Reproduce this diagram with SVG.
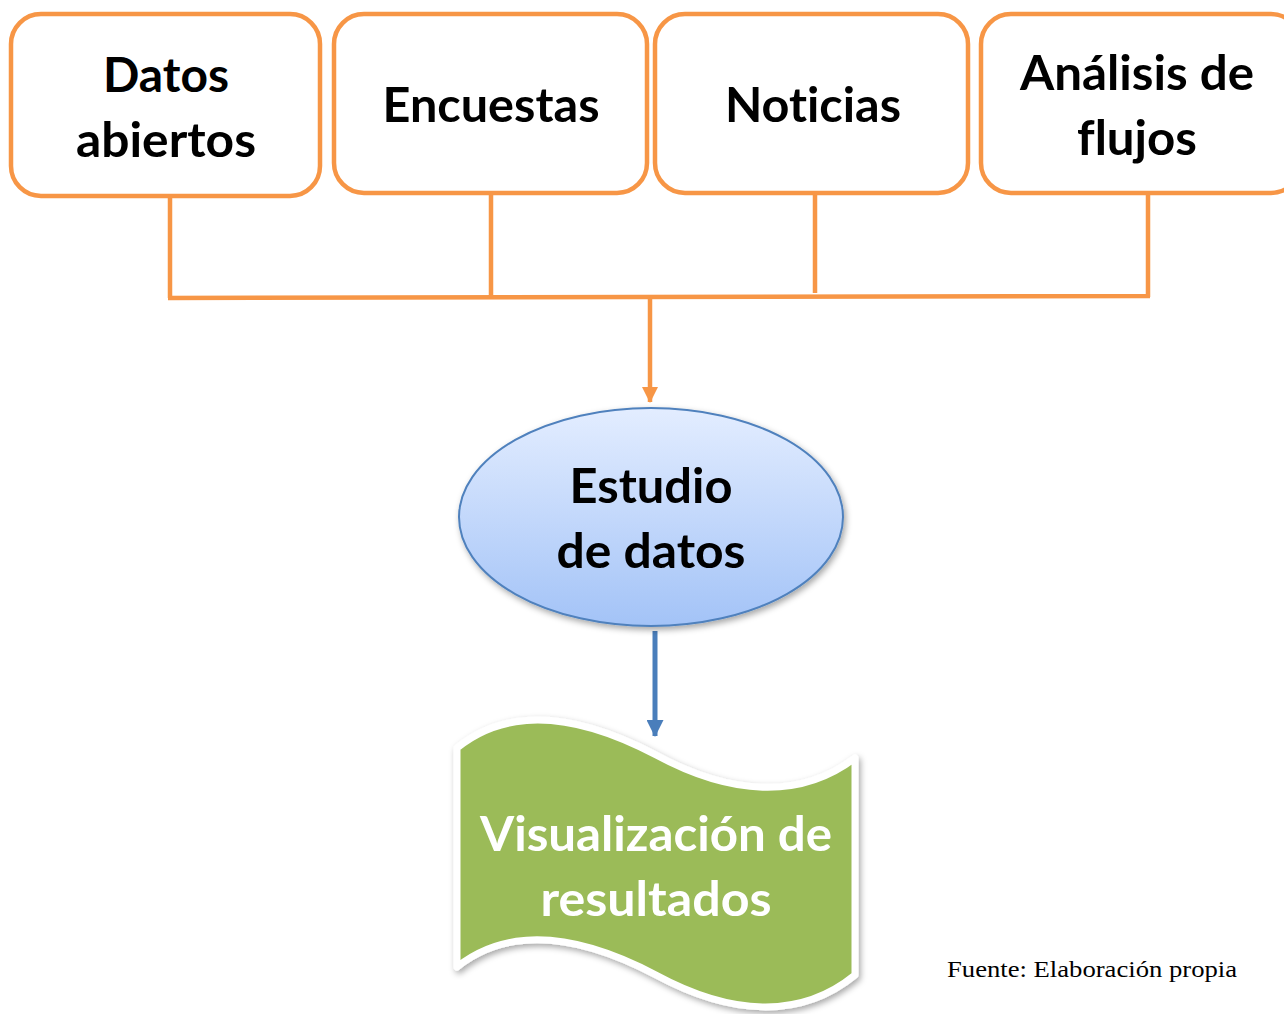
<svg xmlns="http://www.w3.org/2000/svg" width="1284" height="1014" viewBox="0 0 1284 1014">
<style>
.box{fill:#fff;stroke:#F79646;stroke-width:4.5}
.con{fill:none;stroke:#F79646;stroke-width:4.5}
.t{font-family:Lato,"Open Sans",sans-serif;font-weight:bold;font-size:48px;fill:#000;text-anchor:middle;font-variant-ligatures:none}
.w{fill:#fff}
.src{font-family:"Liberation Serif","Times New Roman",serif;font-size:24px;fill:#000}
</style>
<defs>
<linearGradient id="eg" x1="0" y1="0" x2="0" y2="1">
<stop offset="0" stop-color="#E3EDFF"/>
<stop offset="1" stop-color="#A3C3F7"/>
</linearGradient>
<filter id="sh" x="-10%" y="-10%" width="130%" height="130%">
<feDropShadow dx="2" dy="3" stdDeviation="3" flood-color="#000" flood-opacity="0.35"/>
</filter>
<marker id="ao" viewBox="0 0 16 16" refX="15" refY="8" markerWidth="16" markerHeight="16" orient="auto" markerUnits="userSpaceOnUse">
<path d="M0,0 L16,8 L0,16 Z" fill="#F79646"/>
</marker>
<marker id="ab" viewBox="0 0 17 17" refX="16" refY="8.5" markerWidth="17" markerHeight="17" orient="auto" markerUnits="userSpaceOnUse">
<path d="M0,0 L17,8.5 L0,17 Z" fill="#4A7EBB"/>
</marker>
</defs>
<g id="connectors">
<path class="con" d="M170,196 V298 M491,194 V296 M815,194 V293 M1148,195 V297 M168,298 L1150,296"/>
<line x1="650" y1="297" x2="650" y2="402" stroke="#F79646" stroke-width="4.5" marker-end="url(#ao)"/>
<line x1="655" y1="631" x2="655" y2="736" stroke="#4A7EBB" stroke-width="5" marker-end="url(#ab)"/>
</g>
<g id="n1">
<rect class="box" x="11" y="14" width="309" height="182" rx="30"/>
<text class="t" x="166" y="92" textLength="126" lengthAdjust="spacingAndGlyphs">Datos</text>
<text class="t" x="166" y="157" textLength="180" lengthAdjust="spacingAndGlyphs">abiertos</text>
</g>
<g id="n2">
<rect class="box" x="334" y="14" width="313" height="179" rx="30"/>
<text class="t" x="491" y="122" textLength="217" lengthAdjust="spacingAndGlyphs">Encuestas</text>
</g>
<g id="n3">
<rect class="box" x="655" y="14" width="313" height="179" rx="30"/>
<text class="t" x="813" y="122" textLength="176" lengthAdjust="spacingAndGlyphs">Noticias</text>
</g>
<g id="n4">
<rect class="box" x="981" y="14" width="320" height="179" rx="30"/>
<text class="t" x="1137" y="90" textLength="234" lengthAdjust="spacingAndGlyphs">Análisis de</text>
<text class="t" x="1137" y="155" textLength="120" lengthAdjust="spacingAndGlyphs">flujos</text>
</g>
<g id="n5">
<ellipse cx="651" cy="517" rx="192" ry="109" fill="url(#eg)" stroke="#4F81BD" stroke-width="2" filter="url(#sh)"/>
<text class="t" x="651" y="503" textLength="163" lengthAdjust="spacingAndGlyphs">Estudio</text>
<text class="t" x="651" y="568" textLength="189" lengthAdjust="spacingAndGlyphs">de datos</text>
</g>
<g id="n6">
<path d="M457,748 C510,705 580,715 656,755 C730,795 800,800 855,758 L855,975 C800,1020 730,1015 656,975 C580,935 510,925 457,967 Z" fill="#9BBB59" stroke="#fff" stroke-width="7" stroke-linejoin="round" filter="url(#sh)"/>
<text class="t w" x="656" y="851" textLength="352" lengthAdjust="spacingAndGlyphs">Visualización de</text>
<text class="t w" x="656" y="916" textLength="231" lengthAdjust="spacingAndGlyphs">resultados</text>
</g>
<text class="src" x="947" y="977" textLength="290" lengthAdjust="spacingAndGlyphs">Fuente: Elaboración propia</text>
</svg>
